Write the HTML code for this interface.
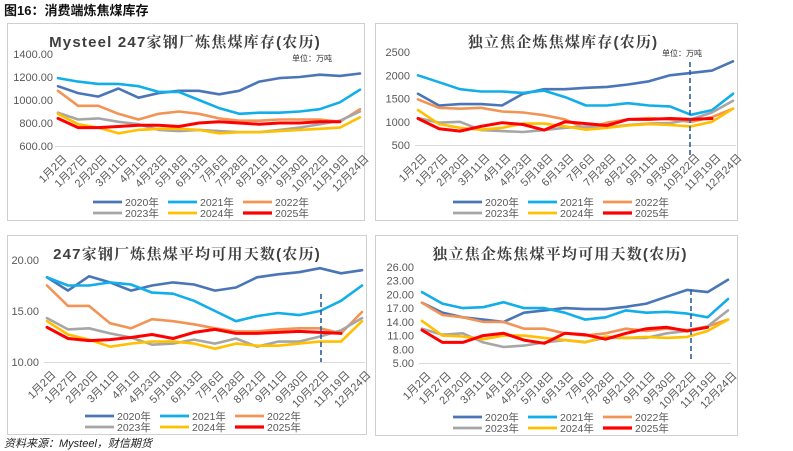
<!DOCTYPE html>
<html><head><meta charset="utf-8">
<style>
body{margin:0;background:#fff;width:793px;height:451px;overflow:hidden;font-family:"Liberation Sans","Noto Sans CJK SC",sans-serif;}
svg{position:absolute;left:0;top:0}
</style></head><body>
<svg id="c" width="793" height="451" xmlns="http://www.w3.org/2000/svg"></svg>
<script>
const categories=["1月2日","1月27日","2月20日","3月11日","4月1日","4月23日","5月18日","6月13日","7月6日","7月28日","8月21日","9月11日","9月30日","10月22日","11月19日","12月24日"];
const years=["2020年","2021年","2022年","2023年","2024年","2025年"];
const p1ticks=["600.00","800.00","1000.00","1200.00","1400.00"];
const p1_2020=[1120,1060,1030,1100,1020,1060,1080,1080,1050,1080,1160,1190,1200,1220,1210,1230];
const p1_2021=[1190,1160,1140,1140,1120,1070,1070,1000,930,880,890,890,900,920,980,1090];
const p1_2022=[1080,950,950,880,830,880,900,880,840,820,820,830,830,830,810,920];
const p1_2023=[890,830,840,810,790,740,730,740,730,720,720,740,760,790,820,900];
const p1_2024=[880,790,760,710,740,750,750,740,710,720,720,730,740,750,760,850];
const p1_2025=[840,760,760,770,780,780,770,800,810,800,790,800,800,810,810];
const p2ticks=["500","1000","1500","2000","2500"];
const p2_2020=[1600,1350,1380,1380,1350,1600,1700,1700,1730,1750,1800,1870,2000,2050,2100,2300];
const p2_2021=[2000,1850,1700,1650,1650,1620,1670,1530,1350,1350,1400,1350,1330,1150,1250,1600];
const p2_2022=[1480,1300,1280,1300,1220,1200,1140,1050,850,980,1050,1080,1050,1000,1100,1280];
const p2_2023=[1080,980,1000,820,800,780,820,870,900,880,930,960,970,1050,1200,1450];
const p2_2024=[1250,950,870,830,870,960,960,900,830,870,920,950,930,900,1000,1280];
const p2_2025=[1070,850,800,900,980,940,820,1000,960,920,1050,1050,1070,1050,1070];
const p3ticks=["10.00","15.00","20.00"];
const p3_2020=[18.3,17.0,18.4,17.8,17.0,17.5,17.8,17.6,17.0,17.3,18.3,18.6,18.8,19.2,18.7,19.0];
const p3_2021=[18.3,17.5,17.5,17.8,17.6,16.8,16.7,16.0,15.0,14.0,14.5,14.8,14.6,15.0,16.0,17.5];
const p3_2022=[17.5,15.5,15.5,13.8,13.3,14.2,14.0,13.7,13.3,13.0,13.0,13.2,13.3,13.3,12.8,14.9];
const p3_2023=[14.3,13.2,13.3,12.8,12.4,11.7,11.8,12.2,11.8,12.3,11.5,12.0,12.0,12.5,13.1,14.3];
const p3_2024=[14.0,12.7,12.2,11.5,11.8,12.0,12.0,11.8,11.3,11.8,11.6,11.6,11.8,12.0,12.0,14.0];
const p3_2025=[13.4,12.3,12.1,12.2,12.4,12.7,12.3,12.9,13.2,12.8,12.8,12.9,13.0,12.9,12.8];
const p4ticks=["5.00","8.00","11.00","14.00","17.00","20.00","23.00","26.00"];
const p4_2020=[18.2,16.0,15.0,14.5,14.0,16.0,16.5,17.0,16.8,16.8,17.3,18.0,19.5,21.0,20.5,23.2];
const p4_2021=[20.5,18.0,17.0,17.2,18.3,17.0,17.0,16.0,14.5,15.0,16.5,16.0,16.2,15.8,15.0,19.0];
const p4_2022=[18.2,15.5,15.0,14.0,14.0,12.5,12.5,11.5,11.0,11.5,12.5,12.0,12.5,12.2,13.0,14.5];
const p4_2023=[12.5,11.2,11.5,9.5,8.5,8.8,9.5,10.0,9.6,10.5,10.5,10.5,11.5,12.0,13.0,16.5];
const p4_2024=[14.2,11.0,10.8,10.2,11.0,11.0,10.5,10.0,9.5,10.8,10.5,10.7,10.5,10.7,12.0,14.5];
const p4_2025=[12.2,9.5,9.5,11.0,11.5,10.0,9.3,11.5,11.2,10.2,11.5,12.5,12.8,12.0,12.8];

const colors=["#4a76b8","#12aee8","#f29455","#a6a6a6","#ffc000","#ff0000"];
const NS="http://www.w3.org/2000/svg";
const svg=document.getElementById('c');
function mk(tag,attrs,parent){const e=document.createElementNS(NS,tag);for(const k in attrs)e.setAttribute(k,attrs[k]);(parent||svg).appendChild(e);return e;}

const panels=[
 {name:"inventory-247-mills",title:"Mysteel 247家钢厂炼焦煤库存(农历)",box:[7,23,357,197],tx:185,x0:58,x1:360,yTop:54,yBot:146,ticks:p1ticks,series:[p1_2020,p1_2021,p1_2022,p1_2023,p1_2024,p1_2025],unit:[292,61],dash:null,tickX:53,legX:93,legY:202},
 {name:"inventory-independent-coking",title:"独立焦企炼焦煤库存(农历)",box:[375,23,362,197],tx:563,x0:418,x1:733,yTop:52,yBot:145,ticks:p2ticks,series:[p2_2020,p2_2021,p2_2022,p2_2023,p2_2024,p2_2025],unit:[662,56],dash:[690,62,155],tickX:410,legX:453,legY:202},
 {name:"days-247-mills",title:"247家钢厂炼焦煤平均可用天数(农历)",box:[7,235,359,199],tx:187,x0:47,x1:362,yTop:260,yBot:362,ticks:p3ticks,series:[p3_2020,p3_2021,p3_2022,p3_2023,p3_2024,p3_2025],unit:null,dash:[321,294,362],tickX:39,legX:85,legY:416},
 {name:"days-independent-coking",title:"独立焦企炼焦煤平均可用天数(农历)",box:[375,235,362,200],tx:560,x0:422,x1:728,yTop:267,yBot:363,ticks:p4ticks,series:[p4_2020,p4_2021,p4_2022,p4_2023,p4_2024,p4_2025],unit:null,dash:[691,290,361],tickX:414,legX:453,legY:417}
];

const h=mk('text',{x:4,y:15,'font-size':13,'font-weight':'bold',fill:'#111','font-family':'"Liberation Sans","Noto Sans CJK SC",sans-serif'});
h.textContent="图16：消费端炼焦煤库存";


const src=mk('text',{x:4,y:447,'font-size':11,'font-style':'italic',fill:'#222'});
src.textContent="资料来源：Mysteel，财信期货";



panels.forEach(p=>{
 const g=mk('g',{});
 
 
 mk('rect',{x:p.box[0]+.5,y:p.box[1]+.5,width:p.box[2],height:p.box[3],fill:'#fff',stroke:'#d0d0d0'},g);
 const t=mk('text',{x:p.tx,y:p.box[1]+24,'text-anchor':'middle','font-size':15,'font-weight':'bold',fill:'#404040','letter-spacing':'1.2','font-family':'"Liberation Sans","Noto Serif CJK SC",serif'},g);
 t.textContent=p.title;
 
 
 if(p.unit){const u=mk('text',{x:p.unit[0],y:p.unit[1],'font-size':8,fill:'#333'},g);u.textContent="单位：万吨";
  }
 const vmin=parseFloat(p.ticks[0]),vmax=parseFloat(p.ticks[p.ticks.length-1]);
 const yS=v=>p.yBot-(v-vmin)/(vmax-vmin)*(p.yBot-p.yTop);
 const xS=i=>p.x0+i*(p.x1-p.x0)/(categories.length-1);
 p.ticks.forEach(tk=>{
  const v=parseFloat(tk);
  const tl=mk('text',{x:p.tickX,y:yS(v)+4,'text-anchor':'end','font-size':11,fill:'#595959'},g);
  tl.textContent=tk;
  
  
 });
 mk('line',{x1:p.x0-3,x2:p.x1+3,y1:p.yBot+.5,y2:p.yBot+.5,stroke:'#d9d9d9'},g);
 categories.forEach((c,i)=>{
  const x=xS(i),y=p.yBot+8;
  const cl=mk('text',{x:x+4,y:y,'text-anchor':'end','font-size':11,fill:'#595959',transform:`rotate(-45 ${x+4} ${y})`,dy:'0.7em'},g);
  cl.textContent=c;
  
  
 });
 p.series.forEach((s,k)=>{
  const d=s.map((v,i)=>(i?'L':'M')+xS(i).toFixed(1)+','+yS(v).toFixed(1)).join('');
  const pl=mk('path',{d:d,fill:'none',stroke:colors[k],'stroke-width':k==5?3:2.6,'stroke-linejoin':'round','stroke-linecap':'round'},g);
  
  
 });
 if(p.dash){const dl=mk('line',{x1:p.dash[0],x2:p.dash[0],y1:p.dash[1],y2:p.dash[2],stroke:'#2e5e9e','stroke-width':1.6,'stroke-dasharray':'5,3'},g);
  }
 years.forEach((yr,k)=>{
  const lx=p.legX+(k%3)*75,ly=p.legY+Math.floor(k/3)*11;
  const le=mk('g',{},g);
  
  
  mk('line',{x1:lx,x2:lx+29,y1:ly,y2:ly,stroke:colors[k],'stroke-width':k==5?3.2:2.8},le);
  const lt=mk('text',{x:lx+32,y:ly+4,'font-size':10.5,fill:'#595959'},le);
  lt.textContent=yr;
 });
});
</script>
</body></html>
